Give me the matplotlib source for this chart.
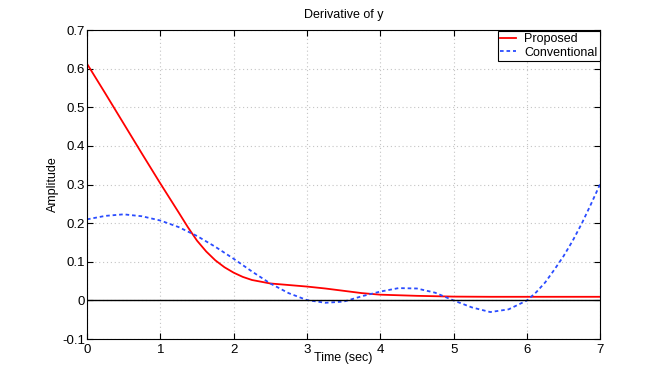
import matplotlib
matplotlib.use('Agg')
import matplotlib.pyplot as plt

plt.rcParams['font.family'] = ['Liberation Sans', 'DejaVu Sans']
plt.rcParams['axes.unicode_minus'] = False

# Proposed derivative (red)
t_prop = [0, 0.25, 0.5, 0.75, 1.0, 1.25, 1.375, 1.5, 1.625, 1.75, 1.875, 2.0, 2.125,
          2.25, 2.5, 2.75, 3.0, 3.25, 3.5, 3.75, 4.0, 4.5, 5.0, 5.5, 6.0, 6.5, 7.0]
y_prop = [0.613, 0.536, 0.458, 0.38, 0.303, 0.228, 0.19, 0.155, 0.127, 0.104, 0.086, 0.072,
          0.061, 0.053, 0.044, 0.040, 0.036, 0.031, 0.025, 0.019, 0.015, 0.012, 0.010,
          0.0095, 0.0095, 0.0095, 0.0095]

# Conventional derivative (blue)
t_conv = [0, 0.25, 0.5, 0.75, 1.0, 1.25, 1.5, 1.75, 2.0, 2.25, 2.5, 2.75, 3.0, 3.25, 3.5,
          3.75, 4.0, 4.25, 4.5, 4.75, 5.0, 5.25, 5.5, 5.75, 6.0, 6.125, 6.25, 6.375, 6.5,
          6.625, 6.75, 6.875, 7.0]
y_conv = [0.21, 0.219, 0.223, 0.218, 0.207, 0.19, 0.167, 0.139, 0.108, 0.075, 0.044, 0.019,
          0.001, -0.006, -0.003, 0.011, 0.023, 0.032, 0.031, 0.02, 0.0, -0.018, -0.03, -0.023,
          0.0, 0.021, 0.047, 0.08, 0.115, 0.155, 0.2, 0.25, 0.302]

fig = plt.figure(figsize=(6.64, 3.81), dpi=100)
ax = fig.add_axes([0.131, 0.110, 0.773, 0.811])

ax.plot(t_prop, y_prop, color='#ff0000', lw=1.3, label='Proposed')
ax.plot(t_conv, y_conv, color='#2a4cff', lw=1.3, ls=(0, (2, 1.6)), label='Conventional')
ax.axhline(0, color='black', lw=1.0)

ax.set_xlim(0, 7)
ax.set_ylim(-0.1, 0.7)
ax.set_xticks(range(0, 8))
ax.set_yticks([-0.1, 0, 0.1, 0.2, 0.3, 0.4, 0.5, 0.6, 0.7])
ax.set_yticklabels(['-0.1', '0', '0.1', '0.2', '0.3', '0.4', '0.5', '0.6', '0.7'])
ax.tick_params(direction='in', top=True, right=True, labelsize=9.5, length=4)
ax.tick_params(axis='x', pad=3.5)
ax.tick_params(axis='y', pad=1.5)
ax.grid(True, ls=(0, (1, 2.5)), color='#c4c4c4', lw=0.8)

ax.set_xlabel('Time (sec)', fontsize=9, labelpad=-2.5)
ax.set_ylabel('Amplitude', fontsize=9, labelpad=2)
ax.set_title('Derivative of y', fontsize=9, pad=9)

leg = ax.legend(loc='upper right', fontsize=9, fancybox=False, edgecolor='black',
                borderpad=0.2, labelspacing=0.12, handlelength=1.3, handletextpad=0.6,
                borderaxespad=0.05, framealpha=1)
leg.get_frame().set_linewidth(0.8)

fig.savefig('out.png', dpi=100)
